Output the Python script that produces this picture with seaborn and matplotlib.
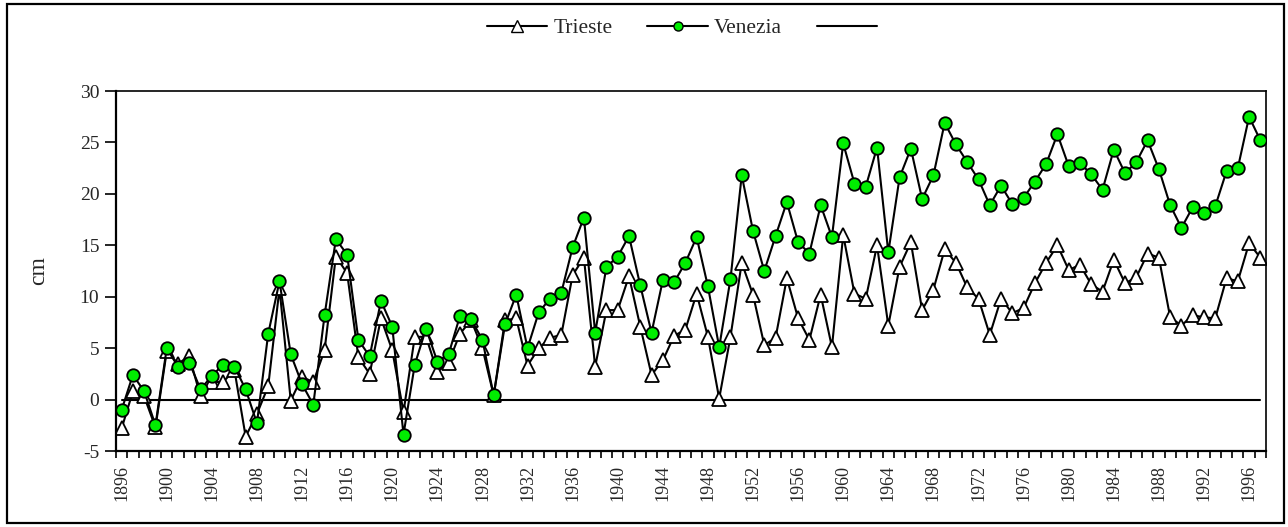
import numpy as np
import pandas as pd
import matplotlib
matplotlib.use("Agg")
import matplotlib.pyplot as plt
from matplotlib.lines import Line2D
from matplotlib.patches import Rectangle
import seaborn as sns

years = list(range(1896, 1998))

trieste = [
    -2.8, 0.8, 0.3, -2.7, 4.7, 3.5, 4.2, 0.3, 1.7, 1.7,   # 1896-1905
    2.9, -3.6, -1.4, 1.3, 10.8, -0.1, 2.2, 1.7, 4.8, 13.9,  # 1906-1915
    12.3, 4.1, 2.5, 7.9, 4.8, -1.2, 6.1, 6.1, 2.7, 3.6,     # 1916-1925
    6.4, 7.7, 5.0, 0.4, 7.7, 7.9, 3.3, 5.0, 6.0, 6.3,       # 1926-1935
    12.1, 13.8, 3.2, 8.7, 8.7, 12.0, 7.1, 2.4, 3.8, 6.2,    # 1936-1945
    6.8, 10.3, 6.1, 0.1, 6.1, 13.3, 10.2, 5.3, 6.0, 11.8,   # 1946-1955
    7.9, 5.8, 10.2, 5.1, 16.0, 10.3, 9.8, 15.0, 7.2, 12.9,  # 1956-1965
    15.3, 8.7, 10.7, 14.6, 13.3, 10.9, 9.8, 6.3, 9.8, 8.4,  # 1966-1975
    8.9, 11.3, 13.3, 15.0, 12.6, 13.1, 11.2, 10.5, 13.6, 11.3,  # 1976-1985
    11.9, 14.2, 13.8, 8.0, 7.2, 8.2, 8.0, 7.9, 11.8, 11.5,  # 1986-1995
    15.2, 13.8,                                             # 1996-1997
]

venezia = [
    -1.0, 2.4, 0.8, -2.5, 5.0, 3.2, 3.6, 1.0, 2.3, 3.4,    # 1896-1905
    3.2, 1.0, -2.3, 6.4, 11.5, 4.4, 1.5, -0.5, 8.2, 15.6,  # 1906-1915
    14.1, 5.8, 4.2, 9.6, 7.1, -3.4, 3.4, 6.9, 3.7, 4.4,    # 1916-1925
    8.1, 7.8, 5.8, 0.4, 7.3, 10.2, 5.0, 8.5, 9.8, 10.4,    # 1926-1935
    14.8, 17.7, 6.5, 12.9, 13.9, 15.9, 11.1, 6.5, 11.6, 11.4,  # 1936-1945
    13.3, 15.8, 11.0, 5.1, 11.7, 21.8, 16.4, 12.5, 15.9, 19.2,  # 1946-1955
    15.3, 14.2, 18.9, 15.8, 24.9, 21.0, 20.7, 24.5, 14.3, 21.6,  # 1956-1965
    24.4, 19.5, 21.8, 26.9, 24.8, 23.1, 21.4, 18.9, 20.8, 19.0,  # 1966-1975
    19.6, 21.2, 22.9, 25.8, 22.7, 23.0, 21.9, 20.4, 24.3, 22.0,  # 1976-1985
    23.1, 25.2, 22.4, 18.9, 16.7, 18.7, 18.1, 18.8, 22.2, 22.5,  # 1986-1995
    27.5, 25.2,                                                  # 1996-1997
]

zero_line = [0.0] * len(years)

y_ticks = [-5, 0, 5, 10, 15, 20, 25, 30]
x_tick_labels = list(range(1896, 1997, 4))

df = pd.DataFrame({"year": years, "Trieste": trieste, "Venezia": venezia, "zero": zero_line})

sns.set_style("white")
plt.rcParams["font.family"] = ["Liberation Serif", "DejaVu Serif"]

fig = plt.figure(figsize=(12.88, 5.27), dpi=100)
ax = fig.add_axes([116 / 1288, 1 - 451 / 527, (1266 - 116) / 1288, (451 - 91) / 527])

sns.lineplot(data=df, x="year", y="zero", ax=ax, color="black", linewidth=1.5, zorder=1)
sns.lineplot(data=df, x="year", y="Trieste", ax=ax, color="black", linewidth=1.5,
             marker="^", markersize=10.5, markerfacecolor="white", markeredgecolor="black",
             markeredgewidth=1.3, zorder=2)
sns.lineplot(data=df, x="year", y="Venezia", ax=ax, color="black", linewidth=1.5,
             marker="o", markersize=9, markerfacecolor="#00ee00", markeredgecolor="black",
             markeredgewidth=1.3, zorder=3)

ax.set_xlim(years[0] - 0.5, years[-1] + 0.5)
ax.set_ylim(-5, 30)
ax.set_yticks(y_ticks)
ax.set_yticklabels([str(v) for v in y_ticks], fontsize=14)
ax.set_xticks(x_tick_labels)
ax.set_xticklabels([str(v) for v in x_tick_labels], rotation=90, fontsize=13)
ax.set_xticks(np.arange(years[0] - 0.5, years[-1] + 1.0, 1.0), minor=True)
ax.tick_params(axis="x", which="major", length=0, pad=10)
ax.tick_params(axis="x", which="minor", length=5, width=1.2, direction="out", color="black", bottom=True)
ax.tick_params(axis="y", which="major", length=8, width=1.2, direction="out", color="black", left=True, pad=4)
ax.set_xlabel("")
ax.set_ylabel("cm", fontsize=17, labelpad=22)

for s in ax.spines.values():
    s.set_visible(True)
    s.set_color("black")
ax.spines["left"].set_linewidth(1.6)
ax.spines["bottom"].set_linewidth(1.6)
ax.spines["top"].set_linewidth(1.2)
ax.spines["right"].set_linewidth(1.2)

handles = [
    Line2D([], [], color="black", linewidth=1.5, marker="^", markersize=8,
           markerfacecolor="white", markeredgecolor="black"),
    Line2D([], [], color="black", linewidth=1.5, marker="o", markersize=6.5,
           markerfacecolor="#00ee00", markeredgecolor="black"),
    Line2D([], [], color="black", linewidth=1.5),
]
fig.legend(handles, ["Trieste", "Venezia", ""], loc="center", bbox_to_anchor=(0.532, 1 - 28 / 527),
           ncol=3, frameon=False, fontsize=15.5, handlelength=2.8, handletextpad=0.3,
           columnspacing=1.6)

fig.patches.append(Rectangle((7 / 1288, 4 / 527), (1284 - 7) / 1288, (523 - 4) / 527,
                             transform=fig.transFigure, fill=False, edgecolor="black",
                             linewidth=1.6, zorder=0))

fig.savefig("out.png", dpi=100)
